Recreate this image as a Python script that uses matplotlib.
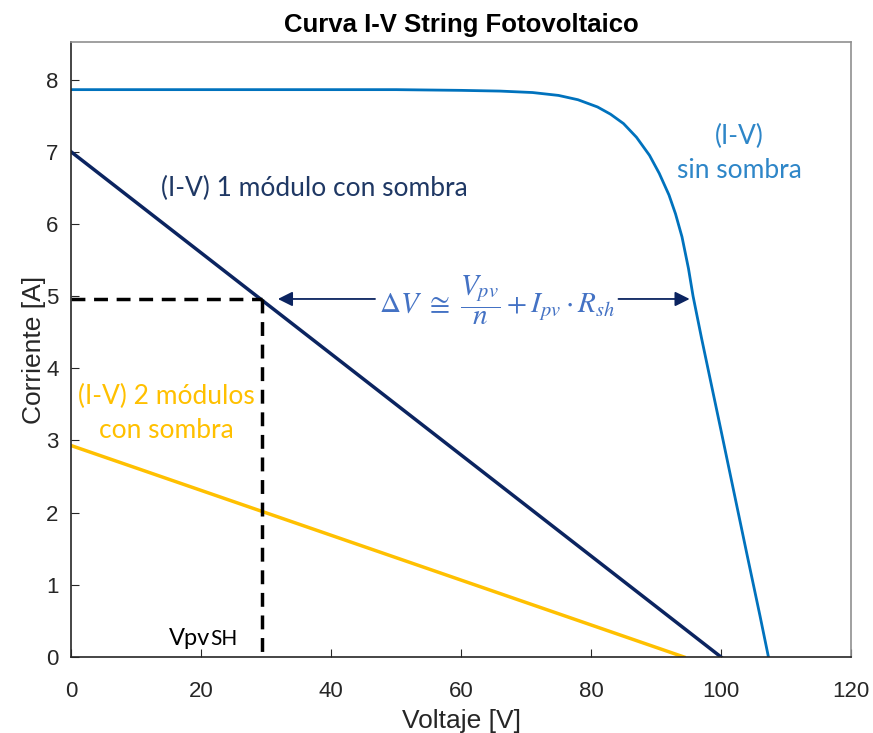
import numpy as np
import matplotlib
matplotlib.use('Agg')
import matplotlib.pyplot as plt

# curve without shading
v_sin = [0, 30, 50, 60, 66, 71, 75, 78, 81, 83, 85, 87, 89, 90.5, 92, 93, 94, 95, 95.7, 97, 98.5, 100, 102, 104, 106, 107.3]
i_sin = [7.86, 7.86, 7.86, 7.85, 7.84, 7.82, 7.78, 7.72, 7.62, 7.52, 7.39, 7.20, 6.95, 6.70, 6.40, 6.14, 5.82, 5.38, 5.00, 4.42, 3.78, 3.14, 2.28, 1.42, 0.57, 0.0]

# one shaded module
v_1m = [0, 100]
i_1m = [7.0, 0.0]

# two shaded modules
v_2m = [0, 94.3]
i_2m = [2.93, 0.0]

# operating point and arrow ends
v_sh = 29.4
i_sh = 4.96
v_arrow_start = 31.4
v_arrow_end = 95.6

c_sin = '#0072BD'
c_1m = '#0B2460'
c_2m = '#FFC000'

plt.rcParams['mathtext.fontset'] = 'stix'
sans = ['Liberation Sans', 'DejaVu Sans']
lab_font = ['Lato', 'DejaVu Sans']

fig = plt.figure(figsize=(8.73, 7.33), dpi=100)
ax = fig.add_axes([71 / 873, 76 / 733, 780 / 873, 615 / 733])

ax.plot(v_sin, i_sin, color=c_sin, linewidth=2)
ax.plot(v_1m, i_1m, color=c_1m, linewidth=2.5)
ax.plot(v_2m, i_2m, color=c_2m, linewidth=2.5)

# dashed guides
ax.plot([0, v_sh], [i_sh, i_sh], color='black', linestyle='--', linewidth=2.5, dashes=(4, 2.5))
ax.plot([v_sh, v_sh], [i_sh, 0], color='black', linestyle='--', linewidth=2.5, dashes=(4, 2.5))

# double arrow with formula in the middle
ax.annotate('', xy=(v_arrow_start, i_sh), xytext=(47.2, i_sh),
            arrowprops=dict(arrowstyle='-|>', color=c_1m, lw=1.3, mutation_scale=22))
ax.annotate('', xy=(v_arrow_end, i_sh), xytext=(83.8, i_sh),
            arrowprops=dict(arrowstyle='-|>', color=c_1m, lw=1.3, mutation_scale=22))
ax.text(65.5, i_sh - 0.02, r'$\Delta V\ \cong\ \dfrac{V_{pv}}{n} + I_{pv} \cdot R_{sh}$',
        color='#4472C4', fontsize=21, ha='center', va='center')

ax.text(13.8, 6.49, '(I-V) 1 módulo con sombra', color='#1F3864', fontsize=19,
        family=lab_font, ha='left', va='center')
ax.text(14.6, 3.37, '(I-V) 2 módulos\ncon sombra', color=c_2m, fontsize=19,
        family=lab_font, ha='center', va='center', linespacing=1.45)
ax.text(102.8, 6.98, '(I-V)\nsin sombra', color='#2E86C8', fontsize=19,
        family=lab_font, ha='center', va='center', linespacing=1.45)
t = ax.text(15.0, 0.17, 'Vpv', color='black', fontsize=17, family=lab_font,
            ha='left', va='baseline')
ax.annotate('SH', xy=(1, 0.17), xycoords=(t, 'data'), xytext=(0.5, 0), textcoords='offset points',
            color='black', fontsize=15, family=lab_font, ha='left', va='baseline')

ax.set_xlim(0, 120)
ax.set_ylim(0, 8.52)
ax.set_xticks(np.arange(0, 121, 20))
ax.set_yticks(np.arange(0, 9, 1))
ax.tick_params(direction='in', length=6, labelsize=16, colors='#262626')
ax.tick_params(axis='x', pad=17)
ax.tick_params(axis='y', pad=9)
for lab in ax.get_xticklabels() + ax.get_yticklabels():
    lab.set_family(sans)

for s in ['left', 'bottom']:
    ax.spines[s].set_color('#262626')
for s in ['top', 'right']:
    ax.spines[s].set_color('#909090')
for s in ax.spines.values():
    s.set_linewidth(1.2)

ax.set_xlabel('Voltaje [V]', fontsize=19, color='#262626', family=sans, labelpad=5)
ax.set_ylabel('Corriente [A]', fontsize=19, color='#262626', family=sans, labelpad=0)
ax.set_title('Curva I-V String Fotovoltaico', fontsize=18.5, fontweight='bold',
             family=sans, pad=7)

plt.savefig('out.png', dpi=100)
